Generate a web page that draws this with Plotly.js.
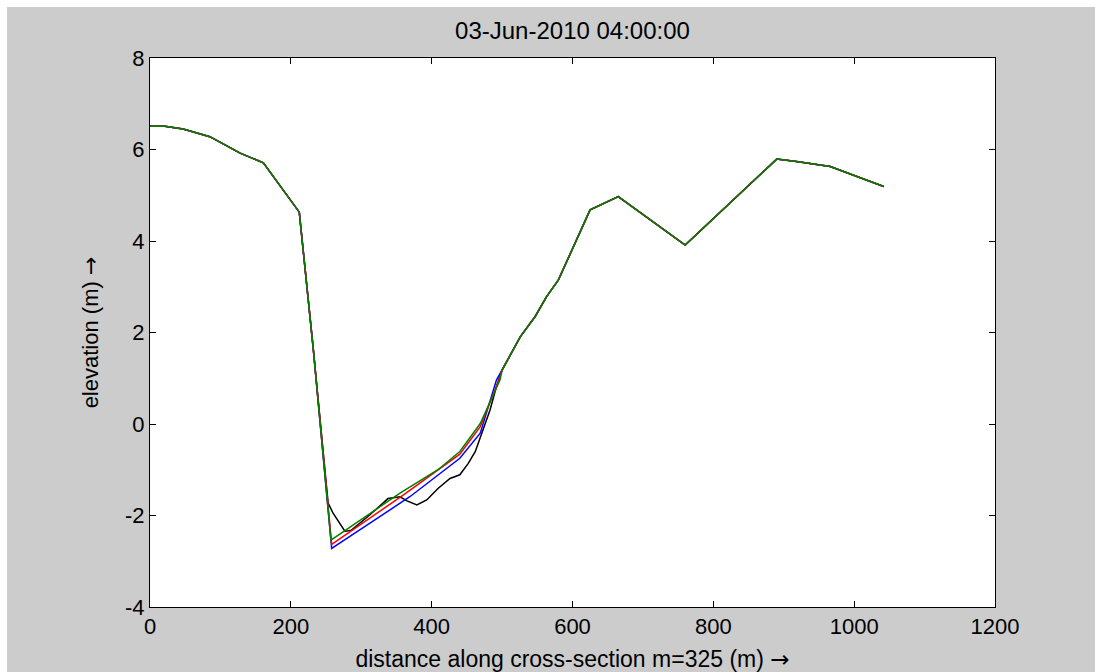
<!DOCTYPE html>
<html><head><meta charset="utf-8">
<script src="https://cdn.plot.ly/plotly-3.0.1.min.js"></script>
<style>
html,body{margin:0;padding:0;background:#ffffff;overflow:hidden;}
#chart{position:absolute;left:7px;top:7px;width:1088px;height:665px;}
</style></head><body>
<div id="chart"></div>
<script>
// Shared bank profile (left and right of channel)
const leftX  = [0, 21, 47, 85, 128, 161, 212, 232];
const leftY  = [6.51, 6.51, 6.45, 6.28, 5.92, 5.71, 4.63, 1.62];
const rightX = [500, 526, 547, 563, 580, 625, 665, 760, 890, 918, 966, 1042];
const rightY = [1.18, 1.91, 2.35, 2.78, 3.15, 4.68, 4.97, 3.91, 5.79, 5.74, 5.63, 5.19];

// Channel bed per time step
const blackX = [253, 260, 277, 286, 312, 327, 338, 355, 365, 379, 393, 409, 426, 440, 452, 462, 471, 483, 492];
const blackY = [-1.73, -1.95, -2.35, -2.32, -1.99, -1.77, -1.63, -1.59, -1.68, -1.77, -1.66, -1.41, -1.19, -1.11, -0.86, -0.60, -0.20, 0.31, 0.82];
const blueX  = [258, 369, 440, 469, 492];
const blueY  = [-2.72, -1.59, -0.75, -0.20, 0.96];
const redX   = [258, 360, 440, 469, 496];
const redY   = [-2.63, -1.55, -0.66, -0.06, 0.98];
const greenX = [257, 355, 409, 440, 469, 497];
const greenY = [-2.54, -1.51, -1.00, -0.60, 0.01, 0.96];

const xTickVals = [0, 200, 400, 600, 800, 1000, 1200];
const xTickText = ['0', '200', '400', '600', '800', '1000', '1200'];
const yTickVals = [-4, -2, 0, 2, 4, 6, 8];
const yTickText = ['-4', '-2', '0', '2', '4', '6', '8'];

const arrow = '<span style="font-family:DejaVu Sans">\u2192</span>';
const titleText = '03-Jun-2010 04:00:00';
const xTitle = 'distance along cross-section m=325 (m) ' + arrow;
const yTitle = 'elevation (m) ' + arrow;

function series(cx, cy, color){
  return {
    x: leftX.concat(cx, rightX),
    y: leftY.concat(cy, rightY),
    type: 'scatter', mode: 'lines',
    line: {color: color, width: 1.5},
    hoverinfo: 'skip', showlegend: false
  };
}

const data = [
  series(blackX, blackY, '#000000'),
  series(blueX, blueY, '#0000ff'),
  series(redX, redY, '#ff0000'),
  series(greenX, greenY, '#008000')
];

const fontFam = 'Liberation Sans, Arial, sans-serif';
const axisCommon = {
  showline: true, linecolor: '#000000', linewidth: 1, mirror: 'ticks',
  ticks: 'inside', ticklen: 6, tickcolor: '#000000', tickwidth: 1,
  showgrid: false, zeroline: false,
  tickfont: {family: fontFam, size: 22, color: '#000000'}
};

const layout = {
  width: 1088, height: 665,
  paper_bgcolor: '#cccccc', plot_bgcolor: '#ffffff',
  margin: {l: 143, r: 100, t: 51, b: 65},
  title: {text: titleText, font: {family: fontFam, size: 24, color: '#000000'}, x: 0.5, xanchor: 'center', xref: 'paper', y: 0.965, yanchor: 'middle'},
  xaxis: Object.assign({}, axisCommon, {
    range: [0, 1200], tickvals: xTickVals, ticktext: xTickText,
    title: {text: xTitle, font: {family: fontFam, size: 23, color: '#000000'}, standoff: 16}
  }),
  yaxis: Object.assign({}, axisCommon, {
    range: [-4, 8], tickvals: yTickVals, ticktext: yTickText,
    title: {text: yTitle, font: {family: fontFam, size: 22, color: '#000000'}, standoff: 20}
  })
};

Plotly.newPlot('chart', data, layout, {displayModeBar: false, staticPlot: true});
</script>
</body></html>
